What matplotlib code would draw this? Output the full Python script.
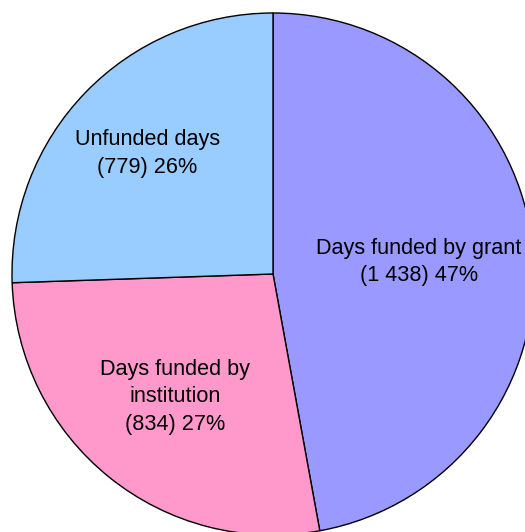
import numpy as np
import matplotlib
matplotlib.use("Agg")
import matplotlib.pyplot as plt

plt.rcParams['font.family'] = ['Liberation Sans', 'DejaVu Sans']

# slice data, drawn clockwise from the top
categories = ["Days funded by grant", "Days funded by\ninstitution", "Unfunded days"]
days = [1438, 834, 779]
count_labels = ["1 438", "834", "779"]
colors = ["#9999ff", "#ff99cc", "#99ccff"]
label_dist = [0.56, 0.60, 0.67]

fig = plt.figure(figsize=(5.25, 5.32), dpi=100)
ax = fig.add_axes([0, 0, 1, 1])

cx, cy, r = 273, 258, 261
wedges, _ = ax.pie(days, colors=colors, startangle=90, counterclock=False,
                   center=(cx, cy), radius=r, frame=True,
                   wedgeprops=dict(edgecolor='black', linewidth=1.0))
ax.set_xlim(0, 525)
ax.set_ylim(0, 532)
ax.set_aspect('equal')
ax.axis('off')

total = sum(days)
for w, cat, n, d, cl in zip(wedges, categories, days, label_dist, count_labels):
    mid = np.deg2rad((w.theta1 + w.theta2) / 2)
    pct = round(100 * n / total)
    ax.text(cx + d * r * np.cos(mid), cy + d * r * np.sin(mid) - 1,
            f"{cat}\n({cl}) {pct}%", ha='center', va='center',
            fontsize=15.6, linespacing=1.4, color='black')

fig.savefig("out.png", dpi=100)
